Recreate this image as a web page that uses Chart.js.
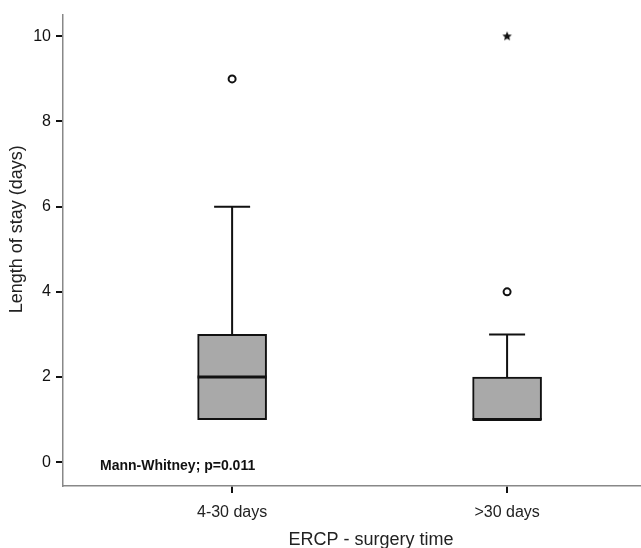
<!DOCTYPE html>
<html>
<head>
<meta charset="utf-8">
<script src="https://cdn.jsdelivr.net/npm/chart.js@4.4.0/dist/chart.umd.min.js"></script>
<style>
  html, body { margin: 0; padding: 0; background: #fff; overflow: hidden; }
  canvas { display: block; }
</style>
</head>
<body>
<canvas id="box" width="641" height="548"></canvas>
<script>
// Gruppen und Kennwerte
const groups = ['4-30 days', '>30 days'];
const q1 = [1, 1];
const medians = [2, 1];
const q3 = [3, 2];
const whiskerLow = [1, 1];
const whiskerHigh = [6, 3];
const outliers = [{ x: 1, y: 9 }, { x: 2, y: 4 }];
const extremes = [{ x: 2, y: 10 }];
const yTicks = [0, 2, 4, 6, 8, 10];
const note = 'Mann-Whitney; p=0.011';
const xTitle = 'ERCP - surgery time';
const yTitle = 'Length of stay (days)';

const FONT = '"Liberation Sans", Arial, Helvetica, sans-serif';

// gefuellter Stern als Punktstil
function starImage(r) {
    const c = document.createElement('canvas');
    c.width = c.height = r * 2 + 2;
    const g = c.getContext('2d');
    g.translate(r + 1, r + 1);
    g.beginPath();
    for (let i = 0; i < 10; i++) {
        const rad = i % 2 === 0 ? r : r * 0.45;
        const a = -Math.PI / 2 + i * Math.PI / 5;
        g.lineTo(rad * Math.cos(a), rad * Math.sin(a));
    }
    g.closePath();
    g.fillStyle = '#111';
    g.fill();
    return c;
}

// Whisker, Kappen, Median, Achsentitel
const boxPlugin = {
    id: 'boxExtras',
    afterDatasetsDraw(chart) {
        const { ctx, scales: { x, y }, chartArea } = chart;
        ctx.save();
        ctx.strokeStyle = '#111';
        ctx.lineCap = 'butt';
        groups.forEach((g, i) => {
            const cx = x.getPixelForValue(i + 1);
            const capHalf = 18;
            const boxHalf = 34.5;
            ctx.lineWidth = 2;
            if (whiskerHigh[i] > q3[i]) {
                ctx.beginPath();
                ctx.moveTo(cx, y.getPixelForValue(q3[i]));
                ctx.lineTo(cx, y.getPixelForValue(whiskerHigh[i]));
                ctx.moveTo(cx - capHalf, y.getPixelForValue(whiskerHigh[i]));
                ctx.lineTo(cx + capHalf, y.getPixelForValue(whiskerHigh[i]));
                ctx.stroke();
            }
            if (whiskerLow[i] < q1[i]) {
                ctx.beginPath();
                ctx.moveTo(cx, y.getPixelForValue(q1[i]));
                ctx.lineTo(cx, y.getPixelForValue(whiskerLow[i]));
                ctx.moveTo(cx - capHalf, y.getPixelForValue(whiskerLow[i]));
                ctx.lineTo(cx + capHalf, y.getPixelForValue(whiskerLow[i]));
                ctx.stroke();
            }
            ctx.lineWidth = 3;
            ctx.beginPath();
            ctx.moveTo(cx - boxHalf, y.getPixelForValue(medians[i]));
            ctx.lineTo(cx + boxHalf, y.getPixelForValue(medians[i]));
            ctx.stroke();
        });
        // Testergebnis
        ctx.fillStyle = '#111';
        ctx.font = 'bold 14px ' + FONT;
        ctx.textBaseline = 'middle';
        ctx.textAlign = 'left';
        ctx.fillText(note, chartArea.left + 37, y.getPixelForValue(0) + 4);

        // Achsentitel (leicht aus der Mitte versetzt wie im Original)
        ctx.fillStyle = '#222';
        ctx.font = '18px ' + FONT;
        ctx.textAlign = 'center';
        ctx.fillText(xTitle, (chartArea.left + chartArea.right) / 2 + 19, 540);
        ctx.translate(17, (chartArea.top + chartArea.bottom) / 2 - 21);
        ctx.rotate(-Math.PI / 2);
        ctx.fillText(yTitle, 0, 0);
        ctx.restore();
    }
};

new Chart(document.getElementById('box'), {
    type: 'bar',
    data: {
        datasets: [
            {
                type: 'bar',
                data: groups.map((g, i) => ({ x: i + 1, y: [q1[i], q3[i]] })),
                backgroundColor: '#a9a9a9',
                borderColor: '#111',
                borderWidth: 2,
                borderSkipped: false,
                barThickness: 69
            },
            {
                type: 'scatter',
                data: outliers,
                pointStyle: 'circle',
                pointRadius: 3.5,
                backgroundColor: '#fff',
                borderColor: '#111',
                borderWidth: 2
            },
            {
                type: 'scatter',
                data: extremes,
                pointStyle: starImage(5)
            }
        ]
    },
    options: {
        responsive: false,
        animation: false,
        layout: { autoPadding: false, padding: { top: 13, right: 0, left: 0, bottom: 0 } },
        plugins: {
            legend: { display: false },
            tooltip: { enabled: false }
        },
        scales: {
            x: {
                type: 'linear',
                min: 0.385,
                max: 2.487,
                offset: false,
                afterBuildTicks: (s) => { s.ticks = groups.map((g, i) => ({ value: i + 1 })); },
                afterFit: (s) => { s.height = 62; s.paddingLeft = 0; s.paddingRight = 0; },
                ticks: {
                    callback: (v) => groups[v - 1] || '',
                    color: '#222',
                    font: { family: FONT, size: 16 },
                    padding: 10,
                    maxRotation: 0
                },
                grid: { offset: false, drawOnChartArea: false, drawTicks: true, tickLength: 7, color: '#111', lineWidth: 2 },
                border: { display: true, color: '#888', width: 1.5 },
                title: { display: false }
            },
            y: {
                type: 'linear',
                min: -0.56,
                max: 10.51,
                afterBuildTicks: (s) => { s.ticks = yTicks.map(v => ({ value: v })); },
                afterFit: (s) => { s.width = 63; },
                ticks: {
                    color: '#111',
                    font: { family: FONT, size: 16 },
                    padding: 5
                },
                grid: { drawOnChartArea: false, drawTicks: true, tickLength: 7, color: '#111', lineWidth: 2 },
                border: { display: true, color: '#888', width: 1.5 },
                title: { display: false }
            }
        }
    },
    plugins: [boxPlugin]
});
</script>
</body>
</html>
